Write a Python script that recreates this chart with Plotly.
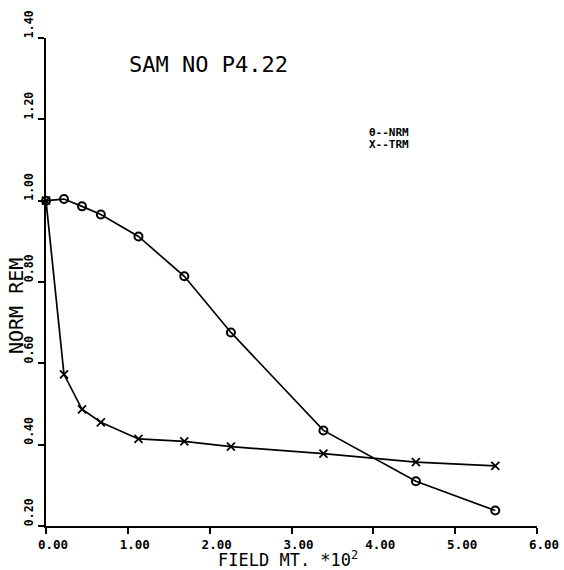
import plotly.graph_objects as go

# Data
field = [0.0, 0.22, 0.44, 0.67, 1.13, 1.69, 2.26, 3.39, 4.52, 5.49]
nrm = [1.000, 1.004, 0.986, 0.966, 0.912, 0.814, 0.676, 0.435, 0.310, 0.238]
trm = [1.000, 0.573, 0.487, 0.455, 0.414, 0.408, 0.395, 0.378, 0.357, 0.348]

x_ticks = [0, 1, 2, 3, 4, 5, 6]
x_tick_labels = ["0.00", "1.00", "2.00", "3.00", "4.00", "5.00", "6.00"]
y_ticks = [0.2, 0.4, 0.6, 0.8, 1.0, 1.2, 1.4]
y_tick_labels = ["0.20", "0.40", "0.60", "0.80", "1.00", "1.20", "1.40"]

title_text = "SAM NO P4.22"
legend_lines = ["\u03b8--NRM", "X--TRM"]
x_title = "FIELD MT. *10<sup>2</sup>"
y_title = "NORM REM"

MONO = "DejaVu Sans Mono"

fig = go.Figure()
fig.add_trace(go.Scatter(
    x=field, y=nrm, mode="lines+markers",
    line=dict(color="black", width=1.7),
    marker=dict(symbol="circle-open", size=8, color="black", line=dict(width=2, color="black")),
    cliponaxis=False, showlegend=False))
fig.add_trace(go.Scatter(
    x=field, y=trm, mode="lines+markers",
    line=dict(color="black", width=1.7),
    marker=dict(symbol="x-thin-open", size=8, color="black", line=dict(width=1.8, color="black")),
    cliponaxis=False, showlegend=False))

W, H = 564, 570
L, R, T, B = 46, 27, 38, 44
pw, ph = W - L - R, H - T - B

def px2paper(px, py):
    return (px - L) / pw, (H - B - py) / ph

fig.update_layout(
    width=W, height=H,
    margin=dict(l=L, r=R, t=T, b=B, pad=0, autoexpand=False),
    paper_bgcolor="white", plot_bgcolor="white",
    xaxis=dict(range=[0, 6], tickvals=x_ticks, ticktext=x_tick_labels, automargin=False,
               showgrid=False, zeroline=False, showline=True, linecolor="black", linewidth=2,
               ticks="outside", ticklen=6, tickwidth=2, tickcolor="black",
               tickfont=dict(family=MONO, size=12.5, color="black", weight="bold"),
               ticklabelshift=7, ticklabelstandoff=0, mirror=False),
    yaxis=dict(range=[0.2, 1.4], tickvals=y_ticks, ticktext=y_tick_labels, automargin=False,
               showgrid=False, zeroline=False, showline=True, linecolor="black", linewidth=2,
               ticks="outside", ticklen=6, tickwidth=2, tickcolor="black",
               tickangle=-90,
               tickfont=dict(family=MONO, size=11.5, color="black", weight="bold"),
               ticklabelshift=-12, ticklabelstandoff=0, mirror=False),
)

annotations = []
ax, ay = px2paper(208, 65)
annotations.append(dict(text=title_text, x=ax, y=ay, xref="paper", yref="paper",
                        xanchor="center", yanchor="middle", showarrow=False,
                        font=dict(family=MONO, size=22, color="black")))
for i, line in enumerate(legend_lines):
    lx, ly = px2paper(367, 132 + 12.5 * i)
    annotations.append(dict(text=line, x=lx, y=ly, xref="paper", yref="paper",
                            xanchor="left", yanchor="middle", showarrow=False,
                            font=dict(family=MONO, size=11, color="black", weight="bold")))
tx, ty = px2paper(288, 558.5)
annotations.append(dict(text=x_title, x=tx, y=ty, xref="paper", yref="paper",
                        xanchor="center", yanchor="middle", showarrow=False,
                        font=dict(family=MONO, size=17, color="black")))
yx, yy = px2paper(16, 306)
annotations.append(dict(text=y_title, x=yx, y=yy, xref="paper", yref="paper",
                        xanchor="center", yanchor="middle", showarrow=False, textangle=-90,
                        font=dict(family=MONO, size=20, color="black")))
fig.update_layout(annotations=annotations)

fig.write_html("out.html", config={"displayModeBar": False},
               post_script="document.body.style.margin='0';document.body.style.overflow='hidden';")
